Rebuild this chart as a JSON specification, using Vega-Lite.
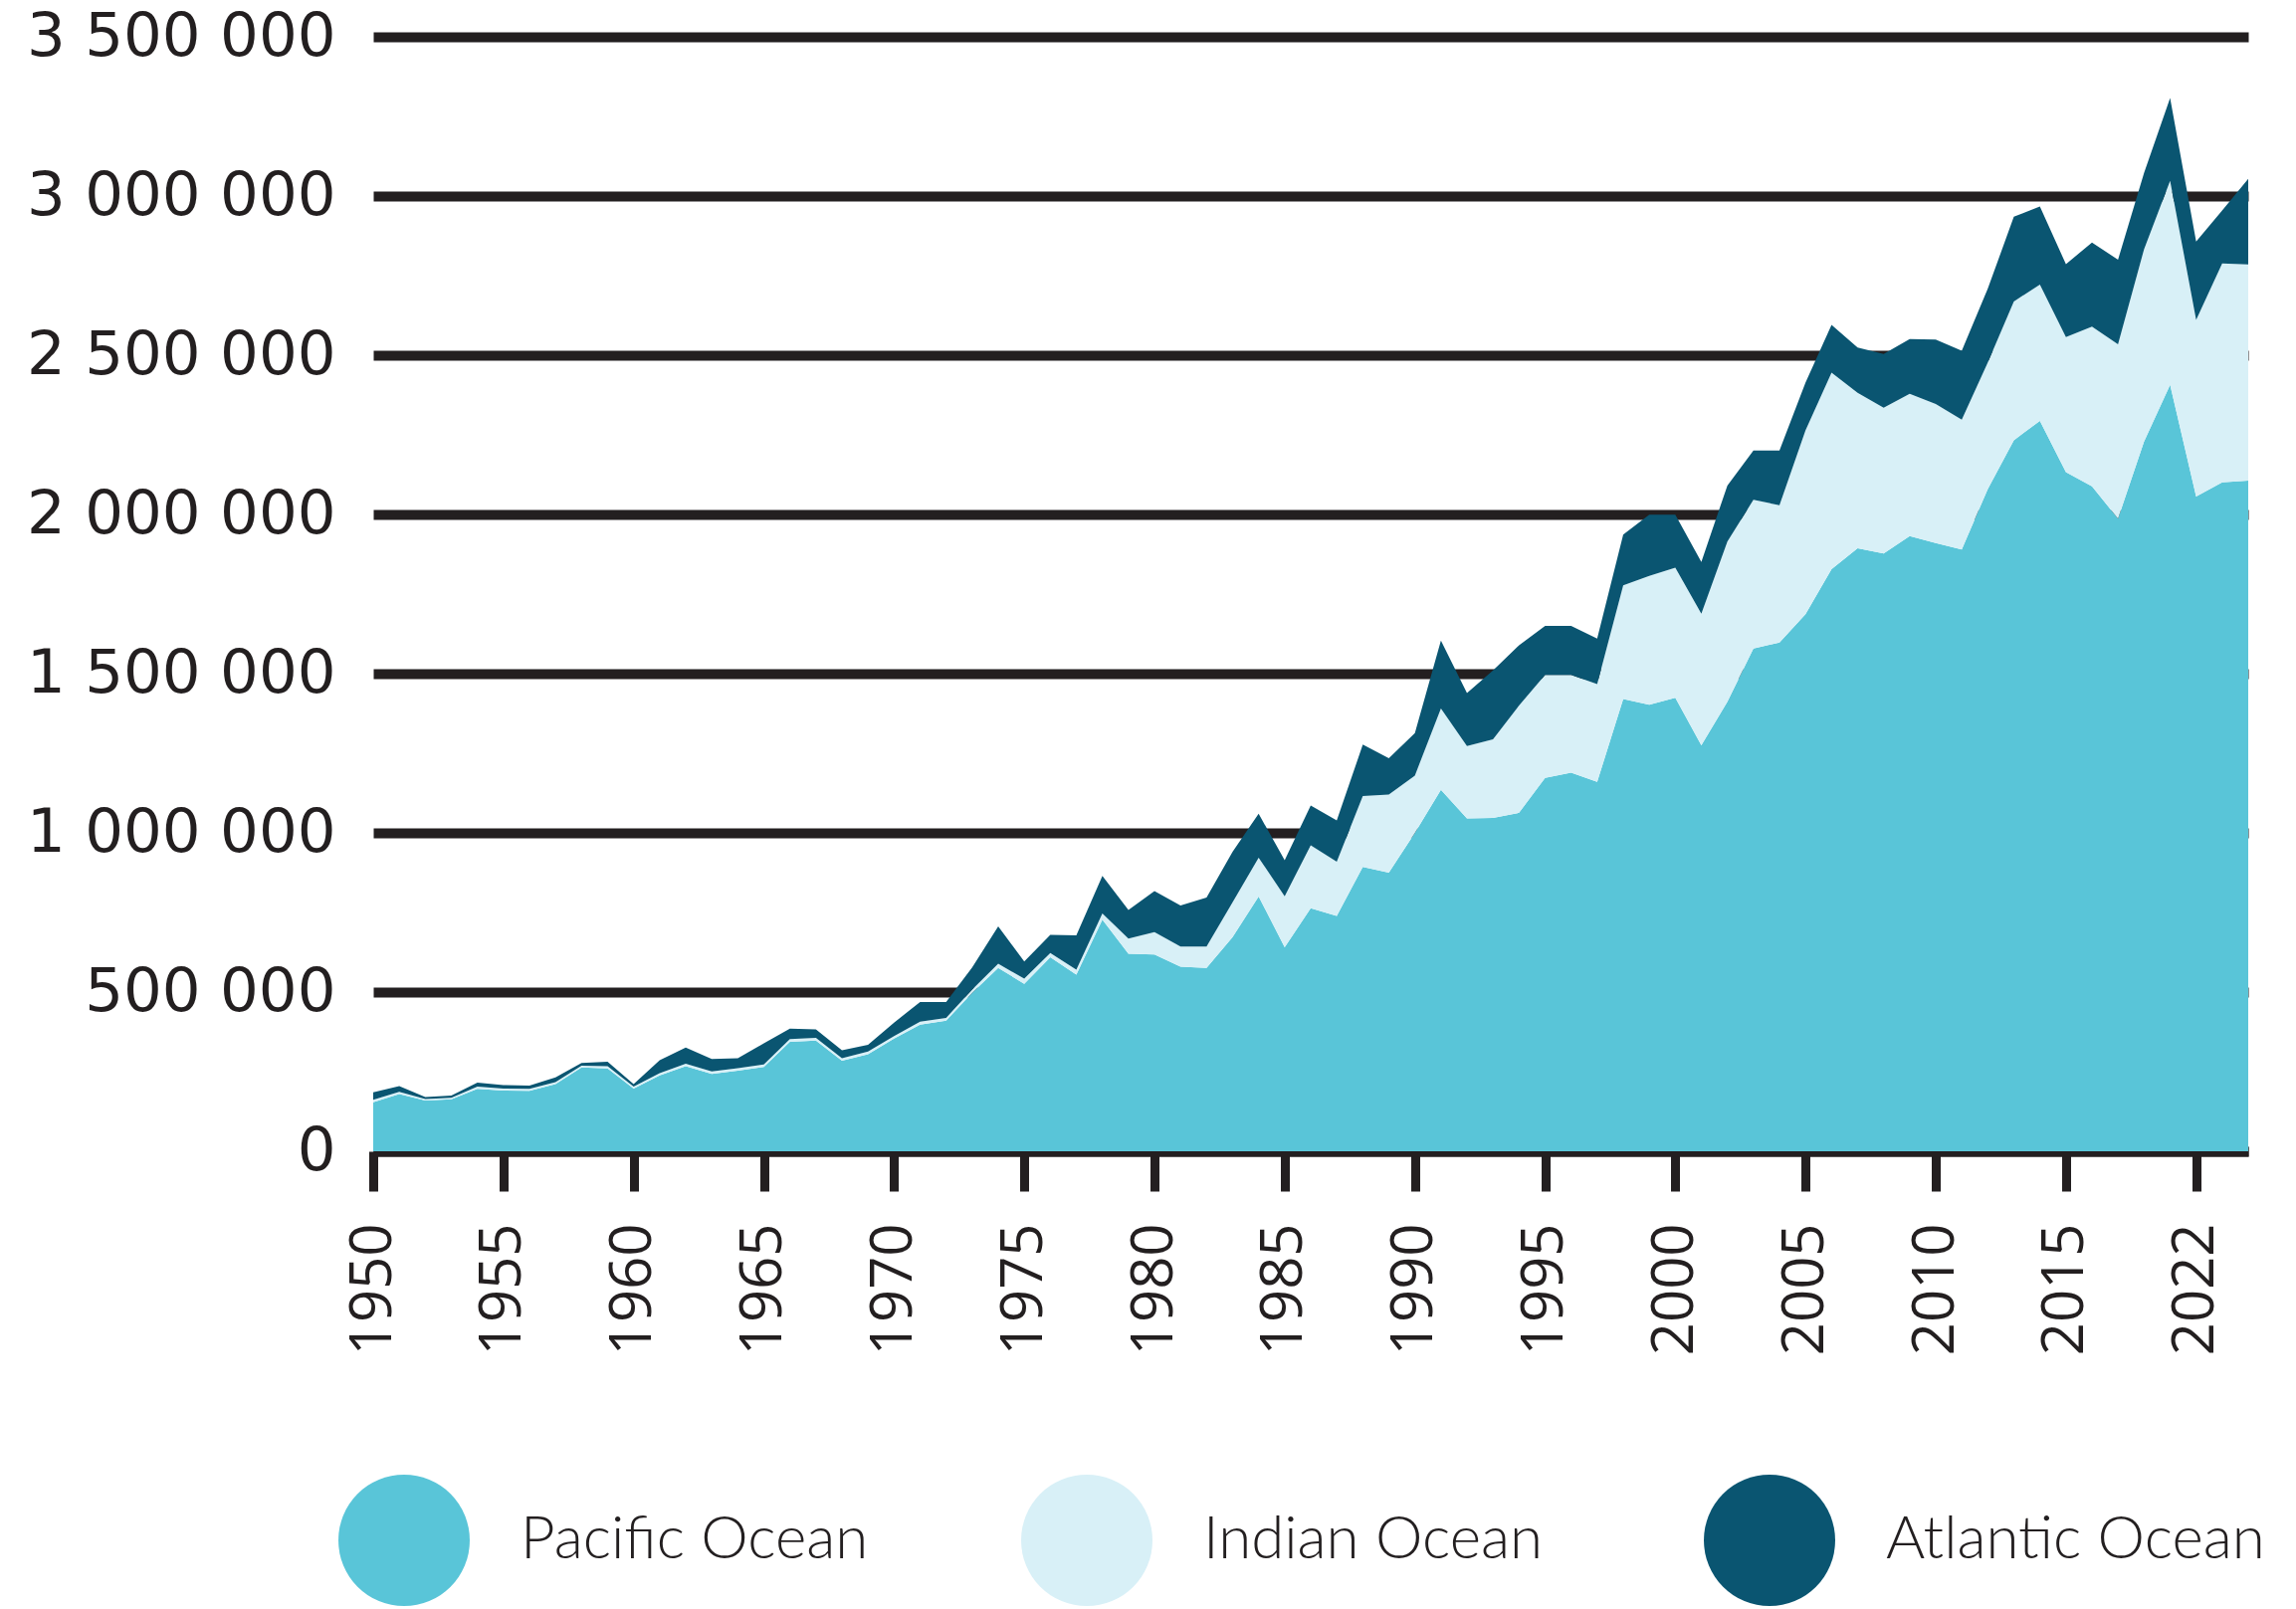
{
  "$schema": "https://vega.github.io/schema/vega-lite/v6.json",
  "width": 1884,
  "height": 1120,
  "autosize": {"type": "none"},
  "padding": {"left": 375, "top": 37, "right": 48, "bottom": 460},
  "background": "white",
  "config": {"view": {"stroke": null}},
  "data": {
    "values": [
      {"year": 1950, "Pacific Ocean": 154000, "Indian Ocean": 8000, "Atlantic Ocean": 23000},
      {"year": 1951, "Pacific Ocean": 180000, "Indian Ocean": 7000, "Atlantic Ocean": 18000},
      {"year": 1952, "Pacific Ocean": 159000, "Indian Ocean": 5000, "Atlantic Ocean": 6000},
      {"year": 1953, "Pacific Ocean": 163000, "Indian Ocean": 5000, "Atlantic Ocean": 7000},
      {"year": 1954, "Pacific Ocean": 196000, "Indian Ocean": 7000, "Atlantic Ocean": 13000},
      {"year": 1955, "Pacific Ocean": 191000, "Indian Ocean": 6000, "Atlantic Ocean": 11000},
      {"year": 1956, "Pacific Ocean": 190000, "Indian Ocean": 6000, "Atlantic Ocean": 10000},
      {"year": 1957, "Pacific Ocean": 211000, "Indian Ocean": 6000, "Atlantic Ocean": 15000},
      {"year": 1958, "Pacific Ocean": 263000, "Indian Ocean": 6000, "Atlantic Ocean": 8000},
      {"year": 1959, "Pacific Ocean": 260000, "Indian Ocean": 7000, "Atlantic Ocean": 14000},
      {"year": 1960, "Pacific Ocean": 197000, "Indian Ocean": 6000, "Atlantic Ocean": 8000},
      {"year": 1961, "Pacific Ocean": 238000, "Indian Ocean": 7000, "Atlantic Ocean": 41000},
      {"year": 1962, "Pacific Ocean": 267000, "Indian Ocean": 8000, "Atlantic Ocean": 51000},
      {"year": 1963, "Pacific Ocean": 243000, "Indian Ocean": 8000, "Atlantic Ocean": 39000},
      {"year": 1964, "Pacific Ocean": 253000, "Indian Ocean": 8000, "Atlantic Ocean": 31000},
      {"year": 1965, "Pacific Ocean": 265000, "Indian Ocean": 8000, "Atlantic Ocean": 66000},
      {"year": 1966, "Pacific Ocean": 344000, "Indian Ocean": 8000, "Atlantic Ocean": 33000},
      {"year": 1967, "Pacific Ocean": 348000, "Indian Ocean": 8000, "Atlantic Ocean": 27000},
      {"year": 1968, "Pacific Ocean": 284000, "Indian Ocean": 8000, "Atlantic Ocean": 25000},
      {"year": 1969, "Pacific Ocean": 305000, "Indian Ocean": 8000, "Atlantic Ocean": 21000},
      {"year": 1970, "Pacific Ocean": 354000, "Indian Ocean": 8000, "Atlantic Ocean": 42000},
      {"year": 1971, "Pacific Ocean": 398000, "Indian Ocean": 9000, "Atlantic Ocean": 62000},
      {"year": 1972, "Pacific Ocean": 410000, "Indian Ocean": 9000, "Atlantic Ocean": 50000},
      {"year": 1973, "Pacific Ocean": 498000, "Indian Ocean": 10000, "Atlantic Ocean": 69000},
      {"year": 1974, "Pacific Ocean": 576000, "Indian Ocean": 13000, "Atlantic Ocean": 117000},
      {"year": 1975, "Pacific Ocean": 526000, "Indian Ocean": 16000, "Atlantic Ocean": 54000},
      {"year": 1976, "Pacific Ocean": 609000, "Indian Ocean": 14000, "Atlantic Ocean": 57000},
      {"year": 1977, "Pacific Ocean": 555000, "Indian Ocean": 15000, "Atlantic Ocean": 108000},
      {"year": 1978, "Pacific Ocean": 727000, "Indian Ocean": 20000, "Atlantic Ocean": 118000},
      {"year": 1979, "Pacific Ocean": 620000, "Indian Ocean": 48000, "Atlantic Ocean": 90000},
      {"year": 1980, "Pacific Ocean": 618000, "Indian Ocean": 70000, "Atlantic Ocean": 129000},
      {"year": 1981, "Pacific Ocean": 580000, "Indian Ocean": 63000, "Atlantic Ocean": 129000},
      {"year": 1982, "Pacific Ocean": 576000, "Indian Ocean": 67000, "Atlantic Ocean": 154000},
      {"year": 1983, "Pacific Ocean": 673000, "Indian Ocean": 109000, "Atlantic Ocean": 159000},
      {"year": 1984, "Pacific Ocean": 800000, "Indian Ocean": 122000, "Atlantic Ocean": 138000},
      {"year": 1985, "Pacific Ocean": 641000, "Indian Ocean": 160000, "Atlantic Ocean": 113000},
      {"year": 1986, "Pacific Ocean": 763000, "Indian Ocean": 198000, "Atlantic Ocean": 125000},
      {"year": 1987, "Pacific Ocean": 739000, "Indian Ocean": 170000, "Atlantic Ocean": 130000},
      {"year": 1988, "Pacific Ocean": 893000, "Indian Ocean": 223000, "Atlantic Ocean": 161000},
      {"year": 1989, "Pacific Ocean": 875000, "Indian Ocean": 245000, "Atlantic Ocean": 114000},
      {"year": 1990, "Pacific Ocean": 1000000, "Indian Ocean": 180000, "Atlantic Ocean": 133000},
      {"year": 1991, "Pacific Ocean": 1135000, "Indian Ocean": 256000, "Atlantic Ocean": 213000},
      {"year": 1992, "Pacific Ocean": 1045000, "Indian Ocean": 228000, "Atlantic Ocean": 166000},
      {"year": 1993, "Pacific Ocean": 1047000, "Indian Ocean": 247000, "Atlantic Ocean": 216000},
      {"year": 1994, "Pacific Ocean": 1063000, "Indian Ocean": 337000, "Atlantic Ocean": 189000},
      {"year": 1995, "Pacific Ocean": 1173000, "Indian Ocean": 323000, "Atlantic Ocean": 154000},
      {"year": 1996, "Pacific Ocean": 1189000, "Indian Ocean": 307000, "Atlantic Ocean": 154000},
      {"year": 1997, "Pacific Ocean": 1160000, "Indian Ocean": 307000, "Atlantic Ocean": 143000},
      {"year": 1998, "Pacific Ocean": 1420000, "Indian Ocean": 357000, "Atlantic Ocean": 160000},
      {"year": 1999, "Pacific Ocean": 1402000, "Indian Ocean": 405000, "Atlantic Ocean": 192000},
      {"year": 2000, "Pacific Ocean": 1424000, "Indian Ocean": 409000, "Atlantic Ocean": 166000},
      {"year": 2001, "Pacific Ocean": 1275000, "Indian Ocean": 413000, "Atlantic Ocean": 163000},
      {"year": 2002, "Pacific Ocean": 1412000, "Indian Ocean": 503000, "Atlantic Ocean": 176000},
      {"year": 2003, "Pacific Ocean": 1579000, "Indian Ocean": 467000, "Atlantic Ocean": 155000},
      {"year": 2004, "Pacific Ocean": 1598000, "Indian Ocean": 431000, "Atlantic Ocean": 172000},
      {"year": 2005, "Pacific Ocean": 1687000, "Indian Ocean": 577000, "Atlantic Ocean": 150000},
      {"year": 2006, "Pacific Ocean": 1828000, "Indian Ocean": 617000, "Atlantic Ocean": 150000},
      {"year": 2007, "Pacific Ocean": 1894000, "Indian Ocean": 488000, "Atlantic Ocean": 142000},
      {"year": 2008, "Pacific Ocean": 1877000, "Indian Ocean": 458000, "Atlantic Ocean": 169000},
      {"year": 2009, "Pacific Ocean": 1932000, "Indian Ocean": 447000, "Atlantic Ocean": 172000},
      {"year": 2010, "Pacific Ocean": 1910000, "Indian Ocean": 437000, "Atlantic Ocean": 202000},
      {"year": 2011, "Pacific Ocean": 1890000, "Indian Ocean": 408000, "Atlantic Ocean": 216000},
      {"year": 2012, "Pacific Ocean": 2080000, "Indian Ocean": 397000, "Atlantic Ocean": 232000},
      {"year": 2013, "Pacific Ocean": 2233000, "Indian Ocean": 436000, "Atlantic Ocean": 266000},
      {"year": 2014, "Pacific Ocean": 2294000, "Indian Ocean": 428000, "Atlantic Ocean": 245000},
      {"year": 2015, "Pacific Ocean": 2133000, "Indian Ocean": 424000, "Atlantic Ocean": 229000},
      {"year": 2016, "Pacific Ocean": 2088000, "Indian Ocean": 502000, "Atlantic Ocean": 264000},
      {"year": 2017, "Pacific Ocean": 1987000, "Indian Ocean": 547000, "Atlantic Ocean": 266000},
      {"year": 2018, "Pacific Ocean": 2229000, "Indian Ocean": 604000, "Atlantic Ocean": 240000},
      {"year": 2019, "Pacific Ocean": 2407000, "Indian Ocean": 641000, "Atlantic Ocean": 260000},
      {"year": 2020, "Pacific Ocean": 2056000, "Indian Ocean": 555000, "Atlantic Ocean": 246000},
      {"year": 2021, "Pacific Ocean": 2101000, "Indian Ocean": 687000, "Atlantic Ocean": 167000},
      {"year": 2022, "Pacific Ocean": 2106000, "Indian Ocean": 679000, "Atlantic Ocean": 269000}
    ]
  },
  "transform": [
    {"fold": ["Pacific Ocean", "Indian Ocean", "Atlantic Ocean"], "as": ["ocean", "catch"]},
    {"calculate": "indexof(['Pacific Ocean','Indian Ocean','Atlantic Ocean'], datum.ocean)", "as": "stackOrder"}
  ],
  "mark": {"type": "area", "interpolate": "linear"},
  "encoding": {
    "x": {
      "field": "year",
      "type": "quantitative",
      "scale": {"domain": [1950, 2022], "nice": false, "zero": false},
      "axis": {
        "title": null,
        "grid": false,
        "values": [1950, 1955, 1960, 1965, 1970, 1975, 1980, 1985, 1990, 1995, 2000, 2005, 2010, 2015, 2020],
        "format": "d",
        "labelExpr": "datum.value == 2020 ? '2022' : datum.label",
        "domainColor": "#231f20",
        "domainWidth": 10,
        "tickColor": "#231f20",
        "tickWidth": 9,
        "tickSize": 40,
        "labelAngle": 270,
        "labelFont": "Open Sans",
        "labelFontSize": 58,
        "labelColor": "#231f20",
        "labelPadding": 32,
        "labelFlush": false,
        "labelOverlap": false
      }
    },
    "y": {
      "field": "catch",
      "type": "quantitative",
      "stack": "zero",
      "scale": {"domain": [0, 3500000], "nice": false},
      "axis": {
        "title": null,
        "values": [0, 500000, 1000000, 1500000, 2000000, 2500000, 3000000, 3500000],
        "labelExpr": "replace(format(datum.value, ','), /,/g, ' ')",
        "grid": true,
        "gridColor": "#231f20",
        "gridWidth": 10,
        "domain": false,
        "ticks": false,
        "labelFont": "DejaVu Sans",
        "labelFontSize": 61,
        "labelColor": "#231f20",
        "labelPadding": 38,
        "labelLimit": 500
      }
    },
    "color": {
      "field": "ocean",
      "type": "nominal",
      "scale": {
        "domain": ["Pacific Ocean", "Indian Ocean", "Atlantic Ocean"],
        "range": ["#59c5d8", "#d8f0f7", "#0a5571"]
      },
      "legend": {
        "title": null,
        "orient": "none",
        "legendX": -35,
        "legendY": 1445,
        "direction": "horizontal",
        "columns": 3,
        "gridAlign": "all",
        "columnPadding": 122,
        "padding": 0,
        "symbolType": "circle",
        "symbolSize": 17424,
        "symbolStrokeWidth": 0,
        "symbolOpacity": 1,
        "labelFont": "Lato",
        "labelFontSize": 60,
        "labelFontWeight": 300,
        "labelColor": "#231f20",
        "labelOffset": 51,
        "labelLimit": 800
      }
    },
    "order": {"field": "stackOrder", "type": "quantitative", "sort": "ascending"}
  }
}
